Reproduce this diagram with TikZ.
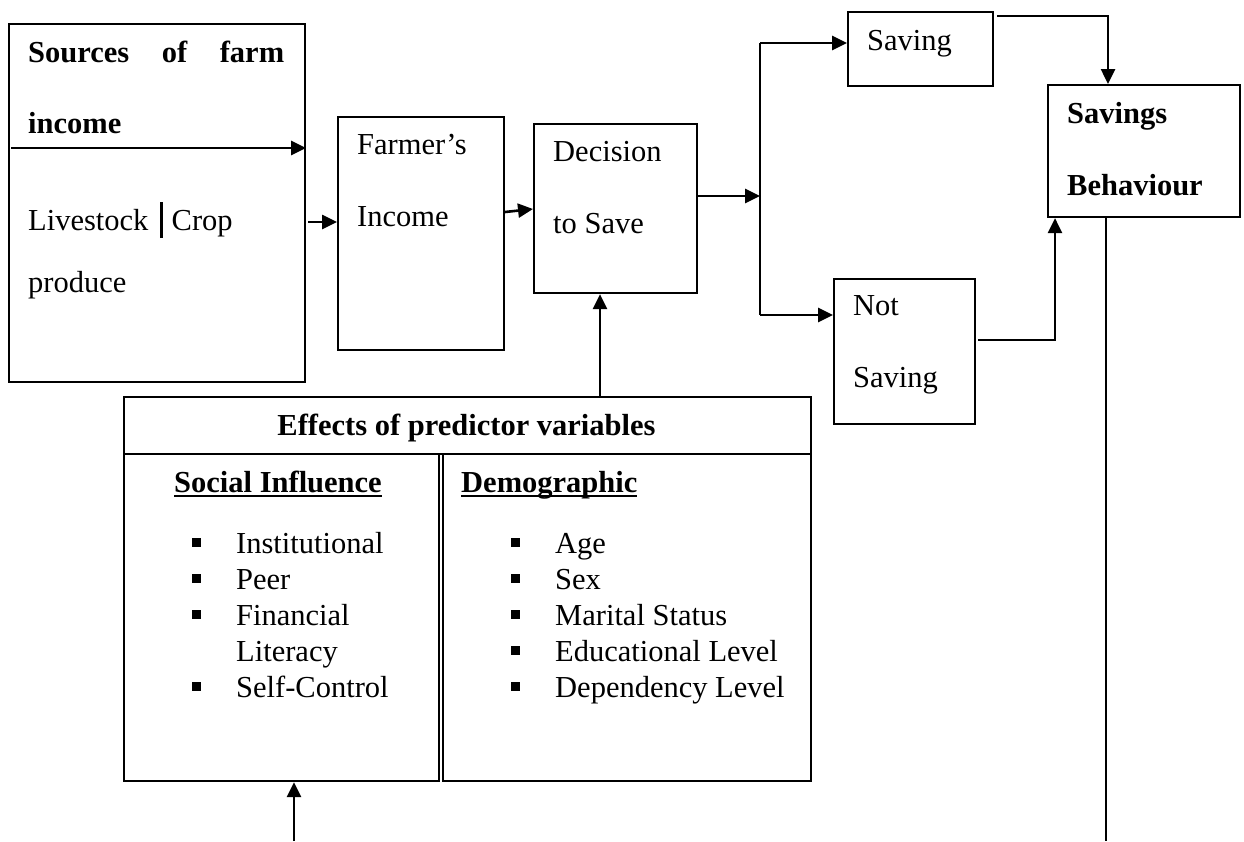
\documentclass[tikz,border=0pt]{standalone}
\usepackage{fontspec}
\setmainfont{Liberation Serif}
\usetikzlibrary{arrows.meta}
\newcommand\twol[2]{{\renewcommand\arraystretch{2}\begin{tabular}[t]{@{}l@{}}#1\\#2\end{tabular}}}
\newcommand\bul{\rule[6pt]{9pt}{9pt}}
\newcommand\myul[1]{\setbox0\hbox{#1}\rlap{\rule[-4.5pt]{\wd0}{1.8pt}}\box0}
\tikzset{
  box/.style={draw, line width=2.1pt, inner sep=0pt, anchor=north west},
  txt/.style={inner sep=0pt, anchor=base west, font=\fontsize{30.5}{36}\selectfont},
  arr/.style={line width=2.6pt, -{Triangle[length=15pt,width=14pt]}},
  ln/.style={line width=2.6pt},
}
\begin{document}
\begin{tikzpicture}[x=1pt,y=-1pt]
\useasboundingbox (0,0) rectangle (1244,841);
% boxes
\node[box, minimum width=296pt, minimum height=358pt] (A) at (8,23) {};
\node[box, minimum width=166pt, minimum height=233pt] (B) at (337,116) {};
\node[box, minimum width=163pt, minimum height=169pt] (C) at (533,123) {};
\node[box, minimum width=145pt, minimum height=74pt] (D) at (847,11) {};
\node[box, minimum width=192pt, minimum height=132pt] (E) at (1047,84) {};
\node[box, minimum width=141pt, minimum height=145pt] (F) at (833,278) {};
\node[box, minimum width=687pt, minimum height=57pt] (Gt) at (123,396) {};
\node[box, minimum width=315pt, minimum height=327pt] (G1) at (123,453) {};
\node[box, minimum width=368pt, minimum height=327pt] (G2) at (442,453) {};
% texts
\node[txt] (tA1) at (28,62) {\makebox[256pt][s]{\bfseries Sources of farm}};
\node[txt] (tA2) at (28,133) {\bfseries income};
\node[txt] (tA3) at (28,230) {Livestock\hspace{12pt}\rule[-8pt]{2.2pt}{36pt}\hspace{9pt}Crop};
\node[txt] (tA4) at (28,292) {produce};
\node[txt] (tB) at (357,154) {\twol{Farmer’s}{Income}};
\node[txt] (tC) at (553,161) {\twol{Decision}{to Save}};
\node[txt] (tD) at (867,50) {Saving};
\node[txt] (tE) at (1067,123) {\bfseries\twol{Savings}{Behaviour}};
\node[txt] (tF) at (853,315) {\twol{Not}{Saving}};
\node[txt, anchor=base] (tG) at (466.5,435) {\bfseries Effects of predictor variables};
\node[txt] (tG1) at (174,492) {\bfseries\myul{Social Influence}};
\node[txt] (tG2) at (461,492) {\bfseries\myul{Demographic}};
\node[txt] (lG1) at (191.5,553) {\begin{tabular}[t]{@{}l@{\hspace{35.5pt}}l@{}}
\bul & Institutional\\ \bul & Peer\\ \bul & Financial\\ & Literacy\\ \bul & Self-Control\end{tabular}};
\node[txt] (lG2) at (510.5,553) {\begin{tabular}[t]{@{}l@{\hspace{35.5pt}}l@{}}
\bul & Age\\ \bul & Sex\\ \bul & Marital Status\\ \bul & Educational Level\\ \bul & Dependency Level\end{tabular}};
% connectors
\coordinate (a1) at (11,148);
\draw[arr] (a1) -- (a1 -| A.east);
\coordinate (yAB) at (0,222);
\draw[arr] (yAB -| A.east) ++(2,0) -- (yAB -| B.west);
\coordinate (b1) at (505,212);
\coordinate (c1) at (0,209);
\draw[arr] (b1) -- (c1 -| C.west);
\coordinate (J) at (760,196);
\coordinate (Jt) at (760,43);
\coordinate (Jb) at (760,315);
\draw[arr] (C.east |- J) -- (J);
\draw[ln] (Jt) -- (Jb);
\draw[arr] (Jt) -- (Jt -| D.west);
\draw[arr] (Jb) -- (Jb -| F.west);
\coordinate (K) at (1108,16);
\draw[arr] (K -| D.east) ++(3,0) -- (K) -- (K |- E.north);
\coordinate (L) at (1055,340);
\draw[arr] (L -| F.east) ++(2,0) -- (L) -- (L |- E.south);
\coordinate (M) at (1106,841);
\draw[line width=2.2pt] (M |- E.south) -- (M);
\coordinate (N) at (600,396);
\draw[arr] (N) -- (N |- C.south);
\coordinate (P) at (294,841);
\draw[arr] (P) -- (P |- G1.south);
\end{tikzpicture}
\end{document}
